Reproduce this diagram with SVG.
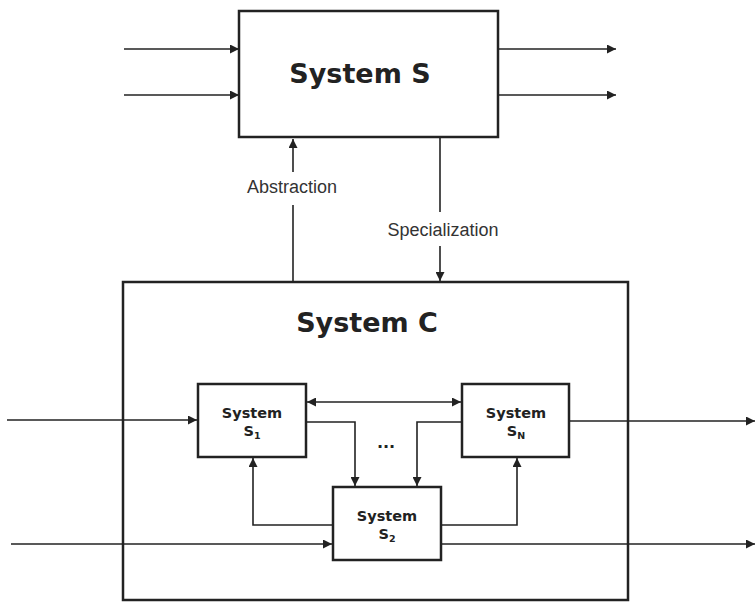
<svg xmlns="http://www.w3.org/2000/svg" width="755" height="602" viewBox="0 0 755 602">
<style>
.box{fill:#fff;stroke:#222;stroke-width:2.5}
.frame{fill:none;stroke:#222;stroke-width:2.5}
.ln{fill:none;stroke:#222;stroke-width:1.6}
.t{font-family:"DejaVu Sans",Verdana,sans-serif;font-weight:bold;fill:#222;text-anchor:middle}
.lbl{font-family:"Liberation Sans",Arial,sans-serif;font-size:18px;fill:#333;text-anchor:middle}
</style>
<defs>
<marker id="ah" viewBox="0 0 10 10" refX="10" refY="5" markerWidth="9" markerHeight="9" markerUnits="userSpaceOnUse" orient="auto-start-reverse">
<path d="M0,0 L10,5 L0,10 z" fill="#222"/>
</marker>
</defs>
<rect width="755" height="602" fill="#fff"/>
<g id="systemC">
<rect class="frame" x="123" y="282" width="505" height="318"/>
<text class="t" x="367" y="332" font-size="27">System C</text>
<text class="t" x="386" y="448" font-size="16">...</text>
</g>
<g id="connectors">
<line class="ln" x1="124" y1="49" x2="239" y2="49" marker-end="url(#ah)"/>
<line class="ln" x1="124" y1="95" x2="239" y2="95" marker-end="url(#ah)"/>
<line class="ln" x1="498" y1="49" x2="616" y2="49" marker-end="url(#ah)"/>
<line class="ln" x1="498" y1="95" x2="616" y2="95" marker-end="url(#ah)"/>
<line class="ln" x1="293" y1="172" x2="293" y2="139" marker-end="url(#ah)"/>
<line class="ln" x1="293" y1="205" x2="293" y2="282"/>
<line class="ln" x1="440" y1="138" x2="440" y2="212"/>
<line class="ln" x1="440" y1="246" x2="440" y2="281" marker-end="url(#ah)"/>
<line class="ln" x1="7" y1="420" x2="197" y2="420" marker-end="url(#ah)"/>
<line class="ln" x1="569" y1="421" x2="755" y2="421" marker-end="url(#ah)"/>
<line class="ln" x1="307" y1="402" x2="461" y2="402" marker-start="url(#ah)" marker-end="url(#ah)"/>
<polyline class="ln" points="306,422 355,422 355,486" marker-end="url(#ah)"/>
<polyline class="ln" points="462,422 417,422 417,486" marker-end="url(#ah)"/>
<polyline class="ln" points="333,525 253,525 253,458" marker-end="url(#ah)"/>
<polyline class="ln" points="441,525 517,525 517,458" marker-end="url(#ah)"/>
<line class="ln" x1="11" y1="544" x2="332" y2="544" marker-end="url(#ah)"/>
<line class="ln" x1="441" y1="544" x2="755" y2="544" marker-end="url(#ah)"/>
<text class="lbl" x="292" y="193">Abstraction</text>
<text class="lbl" x="443" y="236">Specialization</text>
</g>
<g id="systemS">
<rect class="box" x="239" y="11" width="259" height="126"/>
<text class="t" x="360" y="83" font-size="27">System S</text>
</g>
<g id="systemS1">
<rect class="box" x="198" y="384" width="108" height="73"/>
<text class="t" x="252" y="418" font-size="14.5">System</text>
<text class="t" x="252" y="436" font-size="14.5">S<tspan font-size="9.5" dy="3">1</tspan></text>
</g>
<g id="systemSN">
<rect class="box" x="462" y="384" width="107" height="73"/>
<text class="t" x="516" y="418" font-size="14.5">System</text>
<text class="t" x="516" y="436" font-size="14.5">S<tspan font-size="9.5" dy="3">N</tspan></text>
</g>
<g id="systemS2">
<rect class="box" x="333" y="487" width="108" height="73"/>
<text class="t" x="387" y="521" font-size="14.5">System</text>
<text class="t" x="387" y="539" font-size="14.5">S<tspan font-size="9.5" dy="3">2</tspan></text>
</g>
</svg>
